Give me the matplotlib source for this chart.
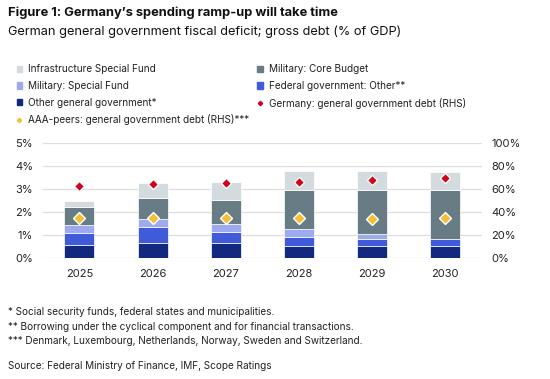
import matplotlib
matplotlib.use("Agg")
import matplotlib.pyplot as plt
import numpy as np
from matplotlib.lines import Line2D
from matplotlib.patches import Patch

plt.rcParams['font.family'] = ['Inter', 'DejaVu Sans']

years = ["2025", "2026", "2027", "2028", "2029", "2030"]
other_gg = [0.58, 0.68, 0.68, 0.55, 0.55, 0.55]
fed_other = [0.51, 0.67, 0.46, 0.39, 0.31, 0.31]
mil_special = [0.36, 0.35, 0.34, 0.32, 0.20, 0.0]
mil_core = [0.78, 0.92, 1.07, 1.73, 1.93, 2.13]
infra = [0.25, 0.67, 0.75, 0.82, 0.81, 0.76]
germany_debt = [62.9, 64.3, 65.2, 66.7, 68.4, 70.1]
aaa_debt = [35.4, 35.4, 35.0, 34.8, 34.5, 34.8]

c_other = "#13297f"
c_fed = "#3f5bd9"
c_mil_sf = "#9eaaf0"
c_core = "#687c85"
c_infra = "#d4dbde"
c_red = "#d0021b"
c_yel = "#f2c037"

fig = plt.figure(figsize=(5.5, 3.79), dpi=100)
ax = fig.add_axes([0.078, 0.3185, 0.798, 0.3035])
x = np.arange(len(years))
w = 0.41
bottom = np.zeros(len(years))
for vals, col in [(other_gg, c_other), (fed_other, c_fed), (mil_special, c_mil_sf),
                  (mil_core, c_core), (infra, c_infra)]:
    ax.bar(x, vals, w, bottom=bottom, color=col, edgecolor="white", linewidth=0.5, zorder=3)
    bottom += np.array(vals)

ax.set_ylim(0, 5)
ax.set_xlim(-0.5, 5.5)
ax.set_yticks(np.arange(0, 6, 1))
ax.set_yticklabels([f"{i}%" for i in range(6)])
ax.set_xticks(x)
ax.set_xticklabels(years)
ax.grid(axis='y', color="#dddddd", linewidth=0.9, zorder=0)
for s in ax.spines.values():
    s.set_visible(False)
ax.tick_params(axis='x', length=0, labelsize=8, colors="#222222", pad=8)
ax.tick_params(axis='y', length=0, labelsize=8, colors="#222222", pad=7)

ax2 = ax.twinx()
ax2.set_ylim(0, 100)
ax2.set_yticks(np.arange(0, 101, 20))
ax2.set_yticklabels([f"{i}%" for i in range(0, 101, 20)])
for s in ax2.spines.values():
    s.set_visible(False)
ax2.tick_params(length=0, labelsize=8, colors="#222222", pad=7)
ax2.plot(x, germany_debt, linestyle='none', marker='D', markersize=5, color=c_red,
         markeredgecolor="white", markeredgewidth=0.9, zorder=5)
ax2.plot(x, aaa_debt, linestyle='none', marker='D', markersize=6, color=c_yel,
         markeredgecolor="white", markeredgewidth=1.0, zorder=5)

handles = [
    Patch(color=c_infra, label="Infrastructure Special Fund"),
    Patch(color=c_mil_sf, label="Military: Special Fund"),
    Patch(color=c_other, label="Other general government*"),
    Line2D([], [], linestyle='none', marker='D', markersize=2.2, color=c_yel,
           label="AAA-peers: general government debt (RHS)***"),
    Patch(color=c_core, label="Military: Core Budget"),
    Patch(color=c_fed, label="Federal government: Other**"),
    Line2D([], [], linestyle='none', marker='D', markersize=2.2, color=c_red,
           label="Germany: general government debt (RHS)"),
]
leg = fig.legend(handles=handles, ncol=2, loc='upper left', bbox_to_anchor=(0.03, 0.83),
                 frameon=False, fontsize=7.2, handlelength=0.55, handleheight=0.55,
                 handletextpad=0.6, columnspacing=0.8, labelspacing=0.66,
                 borderaxespad=0, borderpad=0)
for t in leg.get_texts():
    t.set_color("#222222")

fig.text(0.014, 0.967, "Figure 1: Germany\u2019s spending ramp-up will take time",
         fontsize=9.3, fontweight='bold', va='center', color="#111111")
fig.text(0.014, 0.915, "German general government fiscal deficit; gross debt (% of GDP)",
         fontsize=9.2, va='center', color="#111111")

notes = ["* Social security funds, federal states and municipalities.",
         "** Borrowing under the cyclical component and for financial transactions.",
         "*** Denmark, Luxembourg, Netherlands, Norway, Sweden and Switzerland."]
for i, n in enumerate(notes):
    fig.text(0.014, 1 - (312 + i * 14.5) / 379, n, fontsize=7.2, va='center', color="#222222")
fig.text(0.014, 1 - 366 / 379, "Source: Federal Ministry of Finance, IMF, Scope Ratings",
         fontsize=7.2, va='center', color="#222222")

fig.savefig("out.png", dpi=100)
